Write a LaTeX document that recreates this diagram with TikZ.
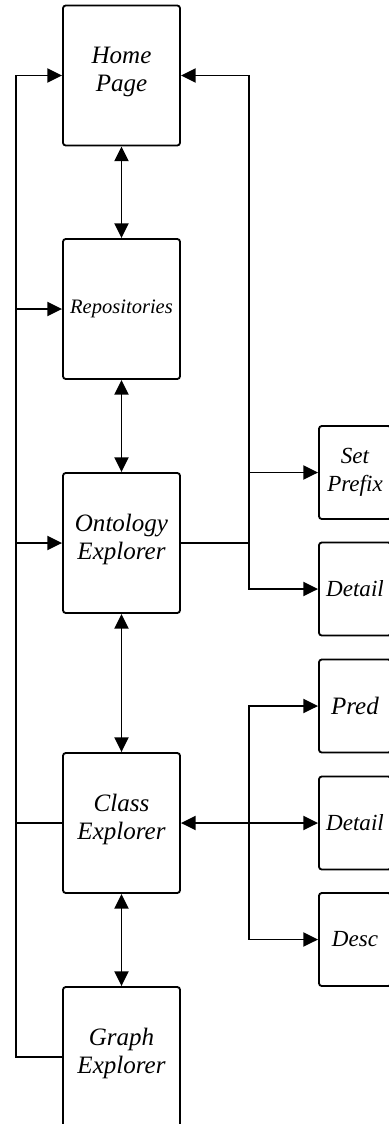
\documentclass[tikz,border=0pt]{standalone}
\usepackage{fontspec}
\setmainfont{Liberation Serif}
\usetikzlibrary{arrows.meta}
\newcommand{\mainsz}{\fontsize{17.8}{19.9}\selectfont\itshape}
\newcommand{\sidesz}{\fontsize{16.4}{19.7}\selectfont\itshape}
\newcommand{\reposz}{\fontsize{14.6}{17}\selectfont\itshape}
\begin{document}
\begin{tikzpicture}[x=0.025cm,y=-0.025cm,line width=1.3pt,
    >={Triangle[length=10.5pt,width=10pt]}]
    \tikzstyle{every node}+=[inner sep=0pt]
    \tikzstyle{page}=[draw,rounded corners=2pt,minimum width=2.925cm,minimum height=3.5cm,align=center,font=\mainsz,text depth=9pt]
    \tikzstyle{sub}=[draw,rounded corners=2pt,minimum width=1.8cm,minimum height=2.325cm,align=center,font=\sidesz]
    \useasboundingbox (0,0) rectangle (388,1124);
    % main pages
    \node [page] (home) at (121.5,75.5) {Home\\Page};
    \node [page,font=\reposz,text depth=] (repo) at (121.5,309) {Repositories};
    \node [page] (onto) at (121.5,543) {Ontology\\Explorer};
    \node [page] (class) at (121.5,823) {Class\\Explorer};
    \node [page] (graph) at (121.5,1057) {Graph\\Explorer};
    % sub pages
    \node [sub] (prefix) at (355,472.5) {Set\\Prefix};
    \node [sub] (odetail) at (355,589) {Detail};
    \node [sub,font=\mainsz] (pred) at (355,706) {Pred};
    \node [sub] (cdetail) at (355,823) {Detail};
    \node [sub] (desc) at (355,939.5) {Desc};
    \coordinate (lbus) at (15.7,75.5);
    \coordinate (rbus) at (249.3,75.5);
    % page to page
    \draw [<->] (home) -- (repo);
    \draw [<->] (repo) -- (onto);
    \draw [<->] (onto) -- (class);
    \draw [<->] (class) -- (graph);
    % back to home, left side
    \draw [->] (graph.west) -| (lbus) -- (home.west);
    \draw [->] (lbus |- repo.west) -- (repo.west);
    \draw [->] (lbus |- onto.west) -- (onto.west);
    \draw (class.west) -- (lbus |- class.west);
    % ontology explorer, right side
    \draw [<->] (home.east) -| (rbus |- odetail.west) -- (odetail.west);
    \draw (onto.east) -- (rbus |- onto.east);
    \draw [->] (rbus |- prefix.west) -- (prefix.west);
    % class explorer, right side
    \draw [<->] (pred.west) -| (rbus |- desc.west) -- (desc.west);
    \draw [<->] (class.east) -- (cdetail.west);
\end{tikzpicture}
\end{document}
